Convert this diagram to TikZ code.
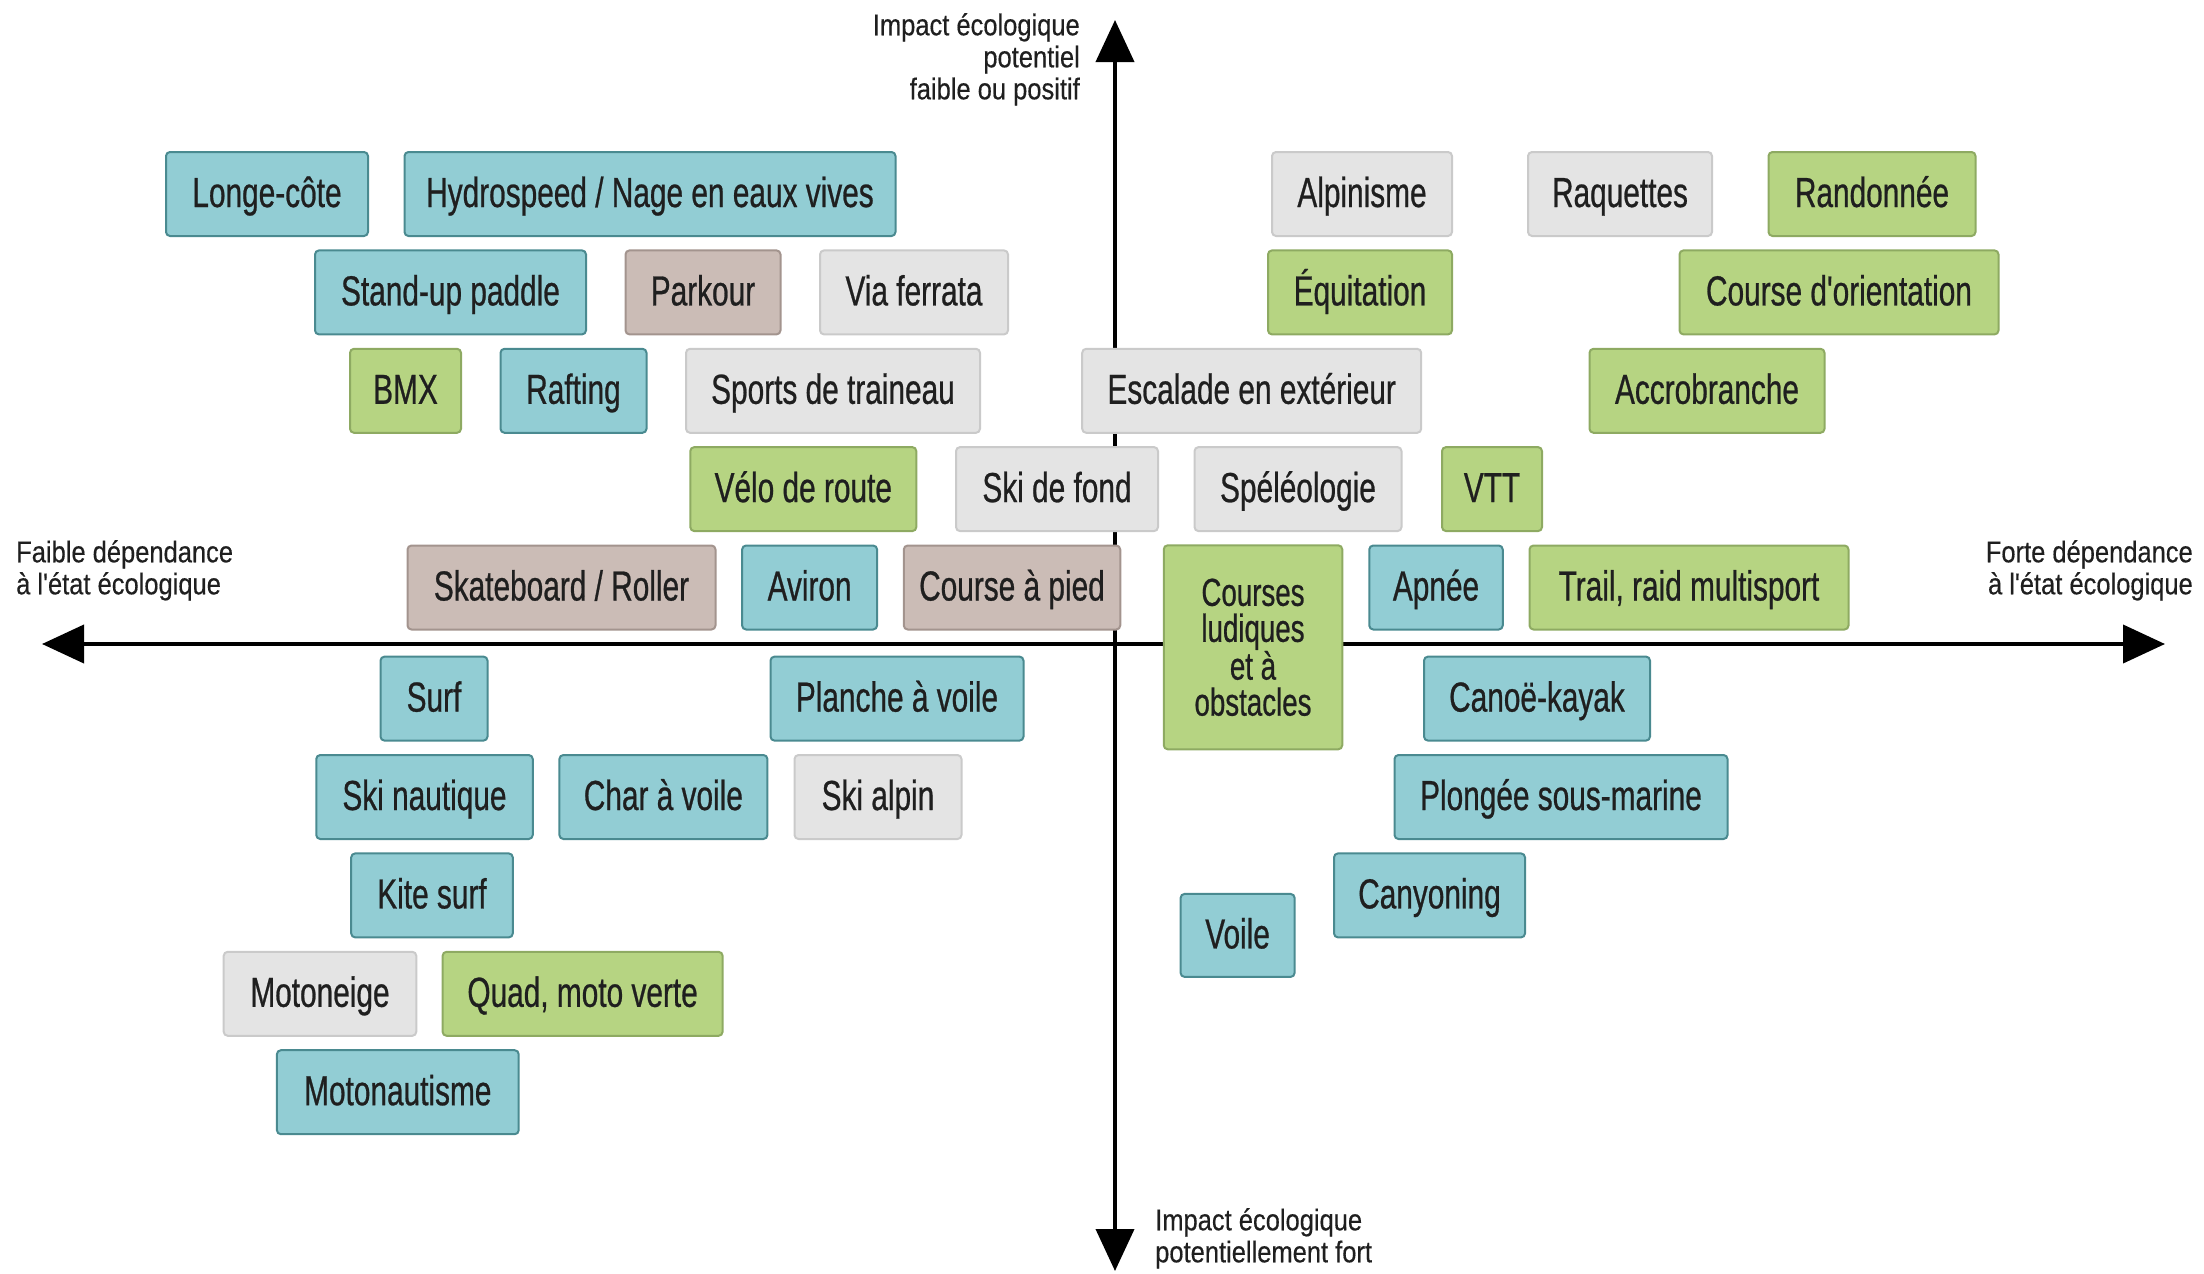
\documentclass[tikz,border=0pt]{standalone}
\usepackage{fontspec}
\setmainfont{Liberation Sans}
\newfontfamily\boxfont[FakeStretch=0.71,FakeBold=0.6]{Liberation Sans}
\newfontfamily\axfont[FakeStretch=0.85,FakeBold=0.4]{Liberation Sans}
\usetikzlibrary{arrows.meta}
\definecolor{bluF}{HTML}{92CDD4}
\definecolor{bluD}{HTML}{4A8A90}
\definecolor{grnF}{HTML}{B6D482}
\definecolor{grnD}{HTML}{8EAA62}
\definecolor{gryF}{HTML}{E4E4E4}
\definecolor{gryD}{HTML}{CACACA}
\definecolor{brnF}{HTML}{CBBCB6}
\definecolor{brnD}{HTML}{A3948E}
\tikzset{
  bbase/.style={draw, rounded corners=4pt, line width=2pt, minimum height=84pt, inner sep=0pt,
    font=\boxfont\fontsize{42}{36}\selectfont, text=black!88},
  bb/.style={bbase, text height=33pt, text depth=7pt},
  blu/.style={bb, fill=bluF, draw=bluD},
  grn/.style={bb, fill=grnF, draw=grnD},
  gry/.style={bb, fill=gryF, draw=gryD},
  brn/.style={bb, fill=brnF, draw=brnD},
  grnmulti/.style={bbase, fill=grnF, draw=grnD, align=center, font=\boxfont\fontsize{39}{36}\selectfont},
  axlab/.style={inner sep=0pt, font=\axfont\fontsize{30}{32}\selectfont, text=black!88},
  axis/.style={line width=4pt, -{Triangle[length=42pt, width=38pt]}}
}
\begin{document}
\begin{tikzpicture}[x=1pt, y=-1pt]
\useasboundingbox (0,0) rectangle (2204,1274);
% axes
\coordinate (O) at (1115,644);
\coordinate (T) at (1115,20);
\coordinate (B) at (1115,1271);
\coordinate (L) at (42,644);
\coordinate (R) at (2165,644);
\draw[axis] (O) -- (T);
\draw[axis] (O) -- (B);
\draw[axis] (O) -- (L);
\draw[axis] (O) -- (R);
% axis labels
\node[axlab, anchor=north east, align=right] (lt) at (1080,13) {Impact écologique\\potentiel\\faible ou positif};
\node[axlab, anchor=north west, align=left] (lb) at (1155,1208) {Impact écologique\\potentiellement fort};
\node[axlab, anchor=north west, align=left] (ll) at (16,540) {Faible dépendance\\à l'état écologique};
\node[axlab, anchor=north east, align=right] (lr) at (2193,540) {Forte dépendance\\à l'état écologique};
% row 1
\node[blu, minimum width=202pt] (longe) at (267,194) {Longe-côte};
\node[blu, minimum width=491pt] (hydro) at (650,194) {Hydrospeed / Nage en eaux vives};
\node[gry, minimum width=180pt] (alpi) at (1362,194) {Alpinisme};
\node[gry, minimum width=184pt] (raq) at (1620,194) {Raquettes};
\node[grn, minimum width=207pt] (rando) at (1872,194) {Randonnée};
% row 2
\node[blu, minimum width=271pt] (sup) at (450.5,292.4) {Stand-up paddle};
\node[brn, minimum width=155pt] (park) at (703,292.4) {Parkour};
\node[gry, minimum width=188pt] (via) at (914,292.4) {Via ferrata};
\node[grn, minimum width=184pt] (equi) at (1360,292.4) {Équitation};
\node[grn, minimum width=319pt] (orient) at (1839,292.4) {Course d'orientation};
% row 3
\node[grn, minimum width=111pt] (bmx) at (405.5,390.8) {BMX};
\node[blu, minimum width=146pt] (raft) at (573.5,390.8) {Rafting};
\node[gry, minimum width=294pt] (trai) at (833,390.8) {Sports de traineau};
\node[gry, minimum width=339pt] (esca) at (1251.7,390.8) {Escalade en extérieur};
\node[grn, minimum width=235pt] (accro) at (1707,390.8) {Accrobranche};
% row 4
\node[grn, minimum width=226pt] (velo) at (803.3,489.1) {Vélo de route};
\node[gry, minimum width=202pt] (skif) at (1057,489.1) {Ski de fond};
\node[gry, minimum width=207pt] (speleo) at (1298,489.1) {Spéléologie};
\node[grn, minimum width=100pt] (vtt) at (1492,489.1) {VTT};
% row 5
\node[brn, minimum width=308pt] (skate) at (561.5,587.5) {Skateboard / Roller};
\node[blu, minimum width=135pt] (aviron) at (809.6,587.5) {Aviron};
\node[brn, minimum width=216.5pt] (cap) at (1012,587.5) {Course à pied};
\node[grnmulti, minimum width=178.5pt, minimum height=204pt] (ludi) at (1253,647.3) {Courses\\ludiques\\et à\\obstacles};
\node[blu, minimum width=133.5pt] (apnee) at (1436,587.5) {Apnée};
\node[grn, minimum width=319pt] (trail) at (1689,587.5) {Trail, raid multisport};
% row 6
\node[blu, minimum width=107pt] (surf) at (434,698.6) {Surf};
\node[blu, minimum width=253pt] (planche) at (897,698.6) {Planche à voile};
\node[blu, minimum width=226pt] (canoe) at (1537,698.6) {Canoë-kayak};
% row 7
\node[blu, minimum width=216.5pt] (skin) at (424.5,797) {Ski nautique};
\node[blu, minimum width=208pt] (char) at (663.4,797) {Char à voile};
\node[gry, minimum width=167pt] (skia) at (878,797) {Ski alpin};
\node[blu, minimum width=333pt] (plongee) at (1561,797) {Plongée sous-marine};
% row 8
\node[blu, minimum width=161.6pt] (kite) at (432,895.4) {Kite surf};
\node[blu, minimum width=191pt] (canyon) at (1429.5,895.4) {Canyoning};
\node[blu, minimum width=114pt, minimum height=83pt] (voile) at (1237.6,935.4) {Voile};
% row 9
\node[gry, minimum width=192.6pt] (motoneige) at (320,993.8) {Motoneige};
\node[grn, minimum width=280pt] (quad) at (582.6,993.8) {Quad, moto verte};
% row 10
\node[blu, minimum width=241.8pt] (motonaut) at (397.8,1092.2) {Motonautisme};
\end{tikzpicture}
\end{document}
